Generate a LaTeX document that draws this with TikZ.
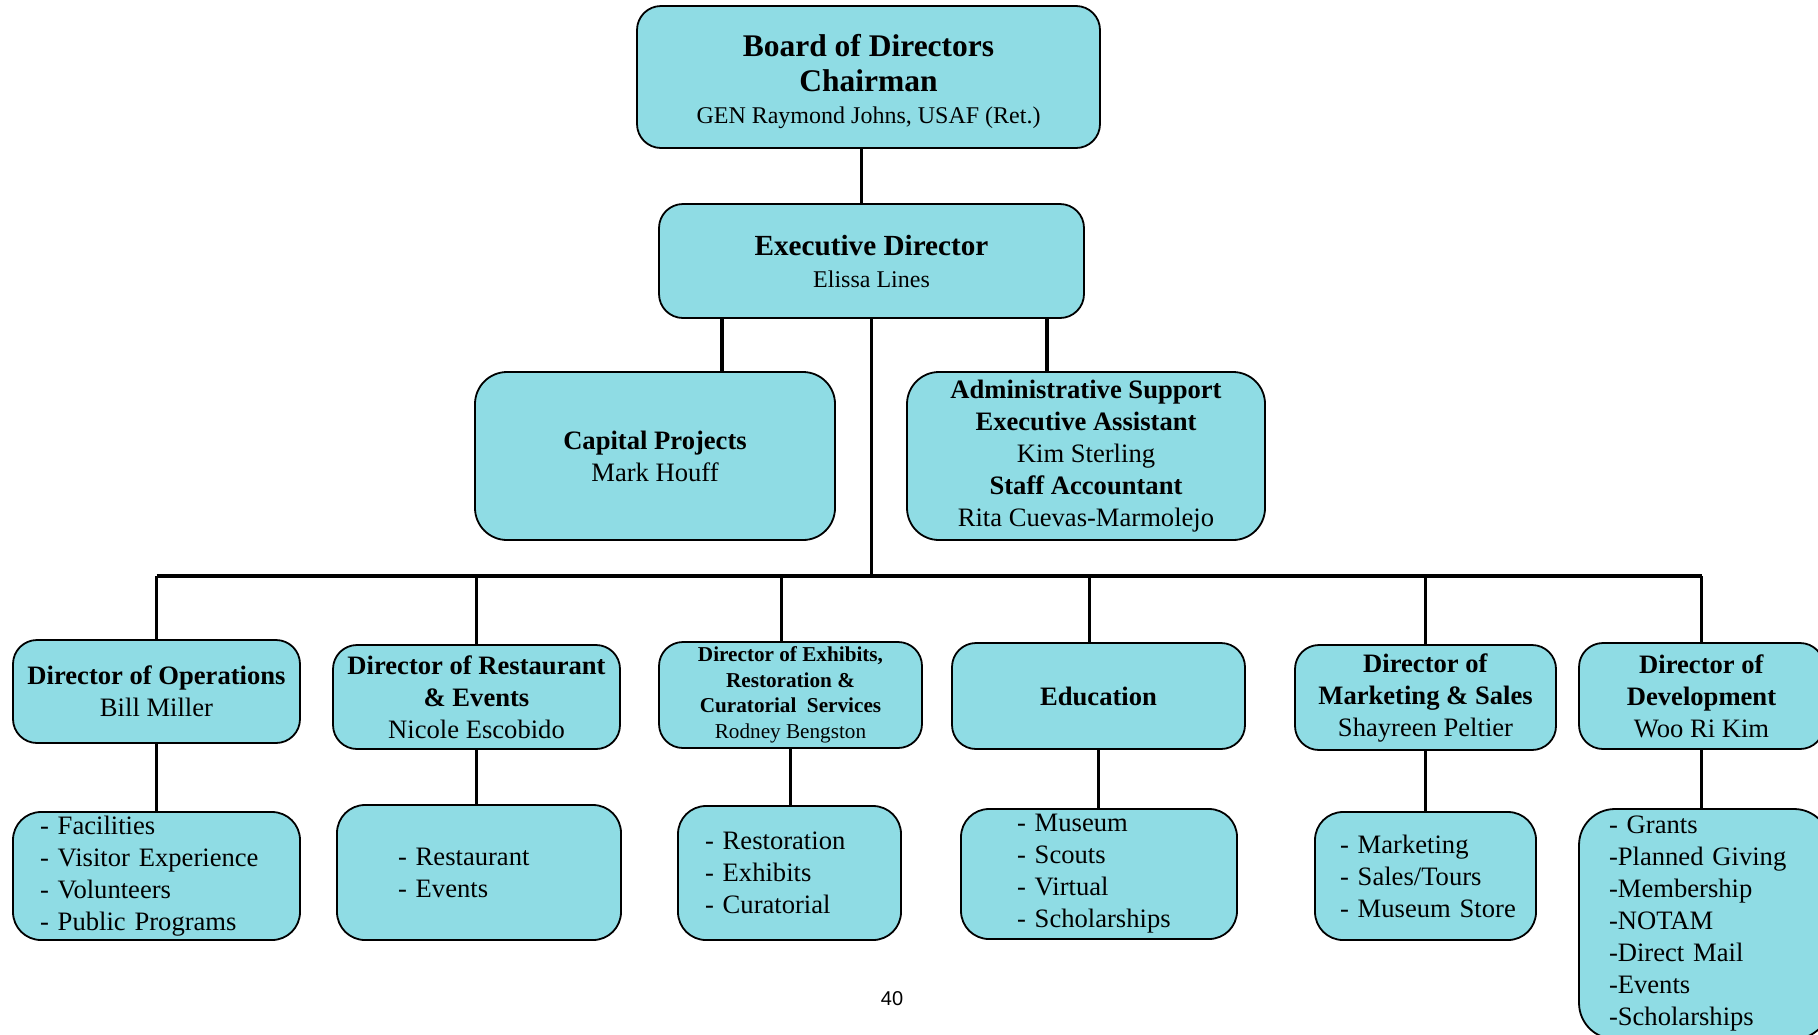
\documentclass[tikz,border=0pt]{standalone}
\usepackage{fontspec}
\setmainfont{Liberation Serif}
\newfontfamily\pagefont{Liberation Sans}
\usetikzlibrary{positioning}
\definecolor{boxcyan}{RGB}{143,220,228}

\begin{document}
\begin{tikzpicture}[x=0.5pt,y=-0.5pt,
    org box/.style={draw,line width=0.9pt,fill=boxcyan,rounded corners=12pt,
                    align=center,inner sep=0pt,font=\fontsize{13.3}{16}\selectfont},
    item box/.style={org box,align=left,rounded corners=14pt,inner ysep=0pt,
                     execute at begin node={\hyphenpenalty=10000\exhyphenpenalty=10000\hbadness=10000}},
    link/.style={line width=1.8pt}]

  \useasboundingbox (0,0) rectangle (1818,1034);

  % top of the chart
  \node[org box,minimum width=231.5pt,minimum height=71pt] (board) at (868.5,77)
    {\bfseries\fontsize{15.75}{18.5}\selectfont\rule{0pt}{16pt}Board of Directors\\[1.5pt]
     \bfseries\fontsize{15.75}{18.5}\selectfont Chairman\\
     \fontsize{12}{17}\selectfont GEN Raymond Johns, USAF (Ret.)};
  \node[org box,minimum width=212.5pt,minimum height=57pt] (exec) at (871.5,261)
    {\bfseries\fontsize{14.6}{15.5}\selectfont Executive Director\\
     \fontsize{12}{15.5}\selectfont Elissa Lines};
  \node[org box,rounded corners=16pt,minimum width=180pt,minimum height=84pt] (cap) at (655,456)
    {\textbf{Capital Projects}\\Mark Houff};
  \node[org box,rounded corners=16pt,minimum width=179pt,minimum height=84pt] (admin) at (1086,456)
    {\textbf{Administrative Support}\\\textbf{Executive Assistant}\\Kim Sterling\\
     \textbf{Staff Accountant}\\Rita Cuevas-Marmolejo};

  % directors
  \node[org box,minimum width=143.5pt,minimum height=51.5pt] (ops) at (156.5,691.5)
    {\textbf{Director of Operations}\\Bill Miller};
  \node[org box,minimum width=143.5pt,minimum height=52pt] (rest) at (476.5,697)
    {\textbf{Director of Restaurant}\\\textbf{\& Events}\\Nicole Escobido};
  \node[org box,minimum width=131.5pt,minimum height=53pt,
        font=\fontsize{10.6}{12.75}\selectfont] (exh) at (790.5,695)
    {\textbf{Director of Exhibits,}\\\textbf{Restoration \&}\\
     \textbf{Curatorial~ Services}\\Rodney Bengston};
  \node[org box,minimum width=146.5pt,minimum height=53pt] (edu) at (1098.5,696)
    {\textbf{Education}};
  \node[org box,minimum width=130.5pt,minimum height=52.5pt] (mkt) at (1425.5,697.5)
    {\textbf{Director of}\\\textbf{Marketing \& Sales}\\Shayreen Peltier};
  \node[org box,minimum width=122.5pt,minimum height=53pt] (dev) at (1701.5,696)
    {\textbf{Director of}\\\textbf{Development}\\Woo Ri Kim};

  % what each director covers
  \node[item box,inner xsep=13.5pt,text width=116.5pt,minimum height=64pt] (opsl) at (156.5,876)
    {-~Facilities\\-~Visitor~Experience\\-~Volunteers\\-~Public~Programs};
  \node[item box,inner xsep=30.5pt,text width=81pt,minimum height=67.5pt] (restl) at (479,872.5)
    {-~Restaurant\\-~Events};
  \node[item box,inner xsep=13.5pt,text width=84.5pt,minimum height=67pt] (exhl) at (789.5,873)
    {-~Restoration\\-~Exhibits\\-~Curatorial};
  \node[item box,inner xsep=28pt,text width=82pt,minimum height=65pt] (edul) at (1099,874)
    {-~Museum\\-~Scouts\\-~Virtual\\-~Scholarships};
  \node[item box,inner xsep=12.5pt,text width=85.5pt,minimum height=64pt] (mktl) at (1425.5,876)
    {-~Marketing\\-~Sales/Tours\\-~Museum~Store};
  \node[item box,rounded corners=18pt,inner xsep=15pt,text width=95.5pt,minimum height=115pt] (devl) at (1704.5,924)
    {-~Grants\\-Planned~Giving\\-Membership\\-NOTAM\\-Direct~Mail\\-Events\\-Scholarships};

  \node[font=\pagefont\fontsize{10}{12}\selectfont] (page) at (892,999) {40};

  % connectors
  \coordinate (capTap) at (722,318);
  \coordinate (admTap) at (1047,318);
  \coordinate (hub) at (871,576);

  \draw[link] ([xshift=-3.5pt]board.south) -- ([xshift=-3.5pt]board.south |- exec.north);
  \draw[link] (capTap) -- (capTap |- cap.north);
  \draw[link] (admTap) -- (admTap |- admin.north);
  \draw[link] (exec.south) -- (exec.south |- hub);
  \draw[link] (ops.north |- hub) -- (dev.north |- hub);
  \foreach \d in {ops,rest,mkt,dev}
    \draw[link] (\d.north) -- (\d.north |- hub);
  \foreach \d in {exh,edu}
    \draw[link] ([xshift=-4.5pt]\d.north) -- ([xshift=-4.5pt]\d.north |- hub);
  \foreach \d/\l in {ops/opsl,rest/restl,exh/exhl,edu/edul,mkt/mktl,dev/devl}
    \draw[link] (\d.south) -- (\d.south |- \l.north);

\end{tikzpicture}
\end{document}
